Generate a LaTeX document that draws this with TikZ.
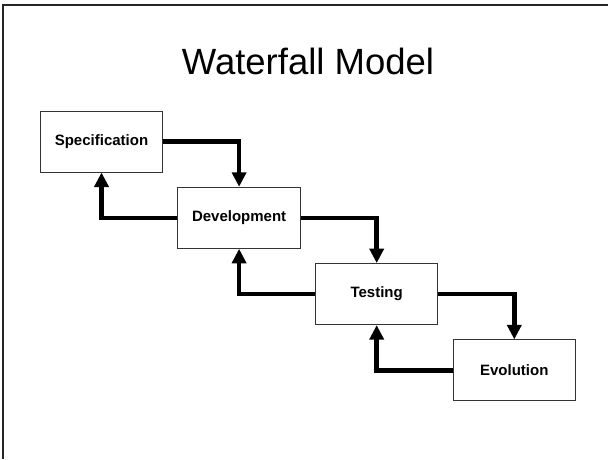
\documentclass[tikz,border=0pt]{standalone}
\usepackage{fontspec}
\setmainfont{Liberation Sans}
\usepackage{tikz}
\usetikzlibrary{arrows.meta,positioning}

\begin{document}
\begin{tikzpicture}[x=1pt,y=-1pt,
  box/.style={draw=black!80,line width=1pt,fill=white,minimum width=122.5pt,minimum height=61pt,
    align=center,font=\bfseries\fontsize{15}{18}\selectfont},
  arr/.style={-{Triangle[width=14pt,length=14.5pt]},line width=4.6pt},
  stage/.style={box,on grid,below right=76.3pt and 137.6pt of #1}]
\useasboundingbox (0,0) rectangle (608,459);
% slide frame
\draw[line width=2pt,black!85] (3,459) -- (3,5) -- (608,5);
\node[anchor=base,font=\fontsize{36.5}{44}\selectfont] (title) at (308,74.3) {Waterfall Model};
\node[box] (spec) at (101.5,141.5) {Specification};
\node[stage=spec] (devel) {Development};
\node[stage=devel] (testing) {Testing};
\node[stage=testing] (evol) {Evolution};
% forward flow
\draw[arr] (spec.east) -| (devel.north);
\draw[arr] (devel.east) -| (testing.north);
\draw[arr] (testing.east) -| (evol.north);
% feedback
\draw[arr] (devel.west) -| (spec.south);
\draw[arr] (testing.west) -| (devel.south);
\draw[arr] (evol.west) -| (testing.south);
\end{tikzpicture}
\end{document}
